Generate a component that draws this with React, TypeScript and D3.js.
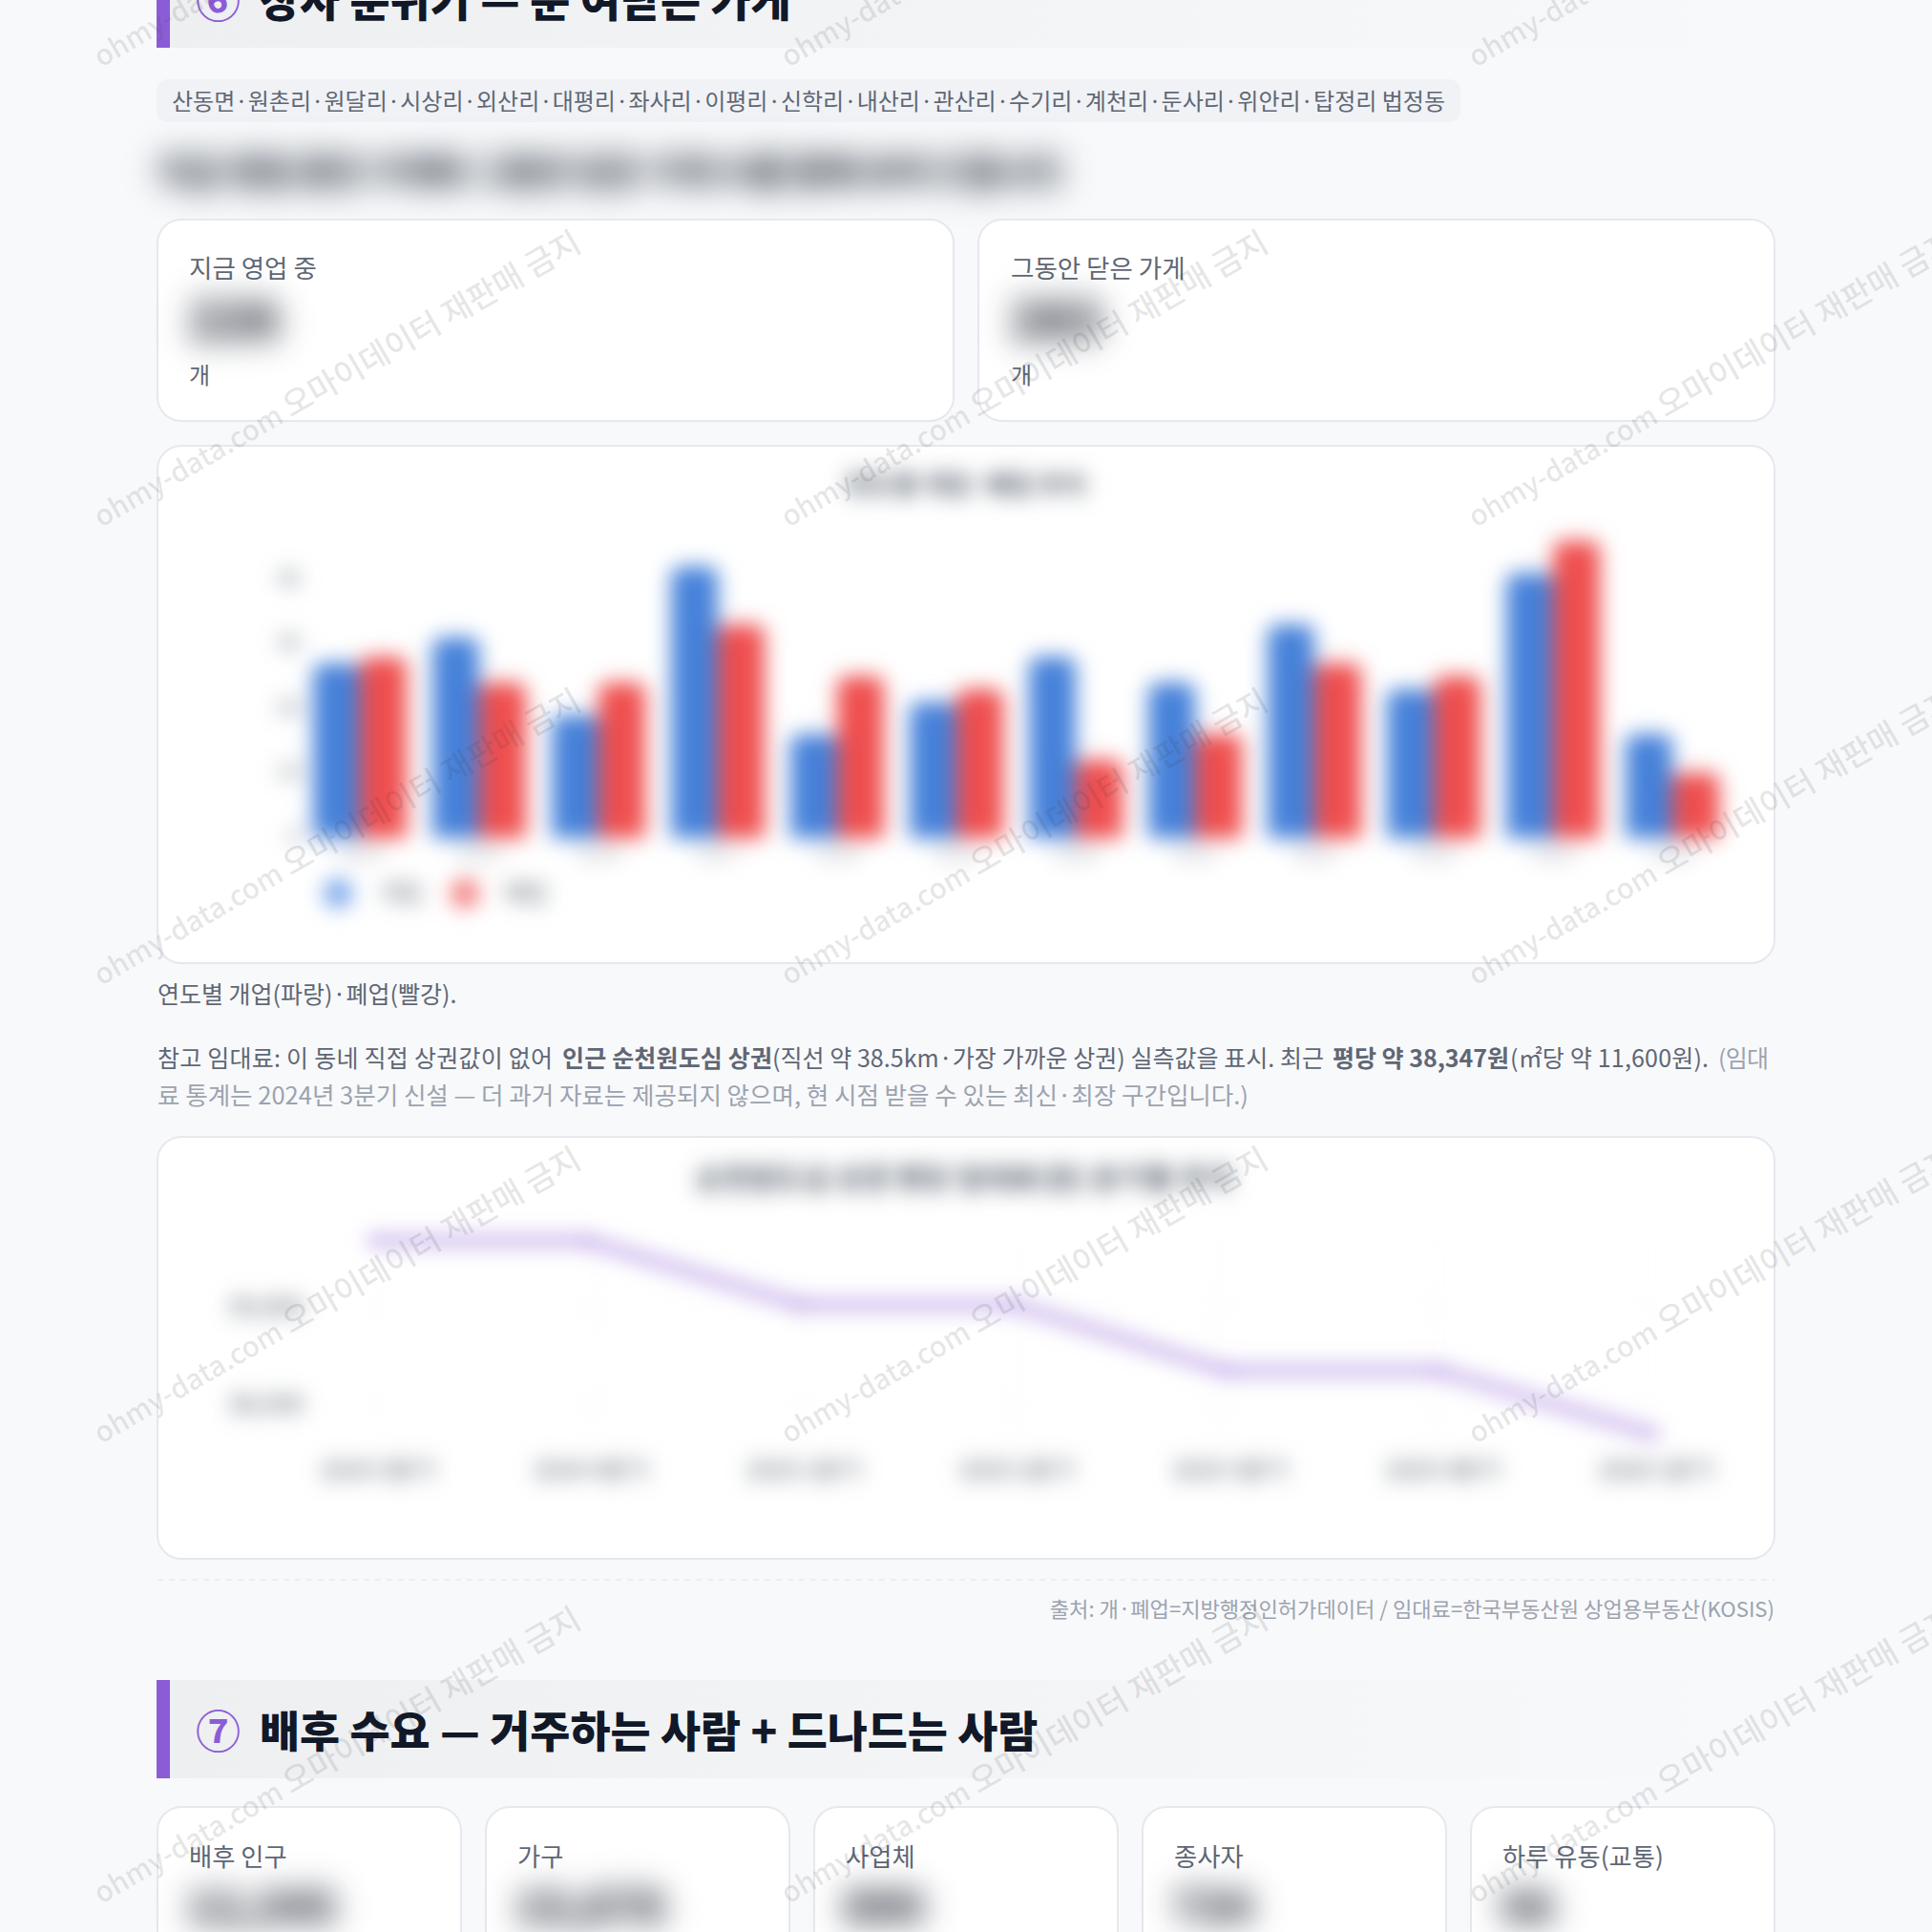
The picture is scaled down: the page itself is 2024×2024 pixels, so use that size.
import React from "react";
import * as d3 from "d3";

const years = ["2014","2015","2016","2017","2018","2019","2020","2021","2022","2023","2024","2025"];
const openings = [27,31,19,42,16,21,28,24,33,23,41,16];
const closings = [28,24,24,33,25,23,12,16,27,25,46,10];
const barTicks = [0,10,20,30,40];
const quarters = ["2024 3분기","2024 4분기","2025 1분기","2025 2분기","2025 3분기","2025 4분기","2026 1분기"];
const rents = [39338,39338,39010,39010,38672,38672,38347];
const rentTicks = [38500,39000];
const villages = "산동면·원촌리·원달리·시상리·외산리·대평리·좌사리·이평리·신학리·내산리·관산리·수기리·계천리·둔사리·위안리·탑정리 법정동";
const statLabels = ["배후 인구","가구","사업체","종사자","하루 유동(교통)"];
const statValues = ["12,345","15,678","890","734","56"];
const wmRows = [71,553,1033,1513,1995];
const wmCols = [106,826,1546];

const FONT = "'Noto Sans CJK KR','Noto Sans',sans-serif";
const BG = "#f8f9fb";
const BORDER = "#e7e8ee";
const chartBlur = { filter: "blur(8px) blur(8px)" };
const bigBlur = { filter: "blur(12px) blur(12px)" };

function Card({x,y,w,h}:{x:number;y:number;w:number;h:number}) {
  return <rect x={x+1} y={y+1} width={w-2} height={h-2} rx={25} fill="#fff" stroke={BORDER} strokeWidth={2}/>;
}
function Heading({y,num,title}:{y:number;num:string;title:string}) {
  return <g>
    <rect x={164} y={y} width={1696} height={103} fill="url(#headGrad)"/>
    <rect x={164} y={y} width={14} height={103} fill="#8b5cd6"/>
    <text x={205} y={y+58} dominantBaseline="middle" fontSize={47} fontWeight={700} fill="#8b5cd6">{num}</text>
    <text x={272} y={y+59} dominantBaseline="middle" fontSize={45.7} fontWeight={900} fill="#111827">{title}</text>
  </g>;
}
function topRounded(x:number,y:number,w:number,y0:number,r:number) {
  const p = d3.path();
  p.moveTo(x,y0);
  p.lineTo(x,y+r);
  p.quadraticCurveTo(x,y,x+r,y);
  p.lineTo(x+w-r,y);
  p.quadraticCurveTo(x+w,y,x+w,y+r);
  p.lineTo(x+w,y0);
  p.closePath();
  return p.toString();
}

export default function App() {
  const by = d3.scaleLinear().domain([0,40]).range([875,605]);
  const half = 49;
  const group = d3.scaleBand<string>().domain(years).range([314.5,1814.5]);
  const cx = (d:string)=>(group(d) as number)+group.bandwidth()/2;

  const lx = d3.scalePoint<string>().domain(quarters).range([392,1731]);
  const ly = d3.scaleLinear().domain([38500,39000]).range([1471,1369]);
  const linePath = d3.line<number>().x((_,i)=>lx(quarters[i]) as number).y(d=>ly(d))(rents) as string;

  const cardXs = [164,508,852,1196,1540];
  const textGray = "#5f6774";

  return (
    <svg width={2024} height={2024} viewBox="0 0 2024 2024"
      style={{position:"absolute",left:0,top:0,display:"block",fontFamily:FONT}}>
      <defs>
        <linearGradient id="headGrad" x1="0" x2="1" y1="0" y2="0">
          <stop offset="0" stopColor="#eeeff1"/>
          <stop offset="1" stopColor="#eeeff1" stopOpacity="0"/>
        </linearGradient>
      </defs>
      <rect x={0} y={0} width={2024} height={2024} fill={BG}/>

      <Heading y={-53} num="⑥" title="장사 분위기 — 문 여닫은 가게"/>

      <rect x={164} y={83} width={1366} height={45} rx={12} fill="#f0f2f6"/>
      <text x={180} y={108} dominantBaseline="middle" fontSize={24} fill={textGray} textLength={1334} lengthAdjust="spacingAndGlyphs">{villages}</text>

      <g style={bigBlur}>
        <text x={165} y={184} dominantBaseline="middle" fontSize={38} fill="#1f2937" fontWeight={800} textLength={947} lengthAdjust="spacingAndGlyphs">지금 영업 중인 가게와 그동안 닫은 가게 수를 함께 보여 드립니다</text>
      </g>

      <Card x={164} y={229} w={836} h={213}/>
      <Card x={1024} y={229} w={836} h={213}/>
      <text x={198} y={284} dominantBaseline="middle" fontSize={26.5} fill={textGray}>지금 영업 중</text>
      <text x={1059} y={284} dominantBaseline="middle" fontSize={26.5} fill={textGray}>그동안 닫은 가게</text>
      <g style={bigBlur} fontSize={52} fontWeight={900} fill="#111827">
        <text x={198} y={340} dominantBaseline="middle">226</text>
        <text x={1059} y={340} dominantBaseline="middle">283</text>
      </g>
      <text x={198} y={395} dominantBaseline="middle" fontSize={24} fill={textGray}>개</text>
      <text x={1059} y={395} dominantBaseline="middle" fontSize={24} fill={textGray}>개</text>

      <Card x={164} y={466} w={1696} h={544}/>
      <g style={chartBlur}>
        <text x={1012} y={511} textAnchor="middle" dominantBaseline="middle" fontSize={27} fontWeight={700} fill="#4b5563">연도별 개업·폐업 추이</text>
        {barTicks.map(t=><text key={t} x={314} y={by(t)+2} textAnchor="end" dominantBaseline="middle" fontSize={21} fill="#4b5563">{t}</text>)}
        {years.map((d,i)=><g key={d}>
          <path d={topRounded(cx(d)-half,by(openings[i])+2,half,878,12)} fill="#4480d9"/>
          <path d={topRounded(cx(d),by(closings[i])+2,half,878,12)} fill="#ef4d4d"/>
          <text x={cx(d)} y={896} textAnchor="middle" dominantBaseline="middle" fontSize={20} fill="#9ca3af">{d}</text>
        </g>)}
        <circle cx={354} cy={936} r={15} fill="#6f9fe9"/>
        <text x={420} y={937} textAnchor="middle" dominantBaseline="middle" fontSize={24} fill="#4b5563">개업</text>
        <circle cx={487} cy={936} r={15} fill="#f27474"/>
        <text x={551} y={937} textAnchor="middle" dominantBaseline="middle" fontSize={24} fill="#4b5563">폐업</text>
      </g>

      <text x={165} y={1044} dominantBaseline="middle" fontSize={25} fill={textGray}>연도별 개업(파랑)·폐업(빨강).</text>
      <g fontSize={25} fill={textGray} dominantBaseline="middle">
        <text x={165} y={1111} textLength={414} lengthAdjust="spacing">참고 임대료: 이 동네 직접 상권값이 없어</text>
        <text x={589} y={1111} fontWeight={700} textLength={220} lengthAdjust="spacing">인근 순천원도심 상권</text>
        <text x={809} y={1111} textLength={578} lengthAdjust="spacing">(직선 약 38.5km·가장 가까운 상권) 실측값을 표시. 최근</text>
        <text x={1396} y={1111} fontWeight={700} textLength={185} lengthAdjust="spacing">평당 약 38,347원</text>
        <text x={1582} y={1111} textLength={208} lengthAdjust="spacing">(㎡당 약 11,600원).</text>
        <text x={1800} y={1111} fill="#9ca3af" textLength={53} lengthAdjust="spacing">(임대</text>
      </g>
      <text x={165} y={1150} dominantBaseline="middle" fontSize={25} fill="#9ca3af" textLength={1143} lengthAdjust="spacingAndGlyphs">료 통계는 2024년 3분기 신설 — 더 과거 자료는 제공되지 않으며, 현 시점 받을 수 있는 최신·최장 구간입니다.)</text>

      <Card x={164} y={1190} w={1696} h={444}/>
      <g style={chartBlur}>
        <text x={1010} y={1237} textAnchor="middle" dominantBaseline="middle" fontSize={30} fontWeight={700} fill="#4b5563" textLength={562} lengthAdjust="spacingAndGlyphs">순천원도심 상권 평당 임대료(원) 분기별 추이</text>
        {rentTicks.map(t=><text key={t} x={318} y={ly(t)+2} textAnchor="end" dominantBaseline="middle" fontSize={26} fill="#4b5563">{d3.format(",")(t)}</text>)}
        {rentTicks.map(t=><line key={t} x1={392} x2={1731} y1={ly(t)} y2={ly(t)} stroke="#f0f0f0" strokeWidth={1}/>)}
        {quarters.map(q=><line key={q} x1={lx(q)} x2={lx(q)} y1={1290} y2={1510} stroke="#f0f0f0" strokeWidth={1}/>)}
        {quarters.map(q=><text key={q} x={lx(q)+4} y={1542} textAnchor="middle" dominantBaseline="middle" fontSize={25} fill="#4b5563">{q}</text>)}
        <path d={linePath} fill="none" stroke="#8b5cd6" strokeWidth={6}/>
        {rents.map((r,i)=><circle key={i} cx={lx(quarters[i])} cy={ly(r)} r={5} fill="#8b5cd6"/>)}
      </g>

      <line x1={165} x2={1859} y1={1655} y2={1655} stroke="#eceef1" strokeWidth={2} strokeDasharray="6 6"/>
      <text x={1859} y={1688} textAnchor="end" dominantBaseline="middle" fontSize={22.1} fill="#9ca3af">출처: 개·폐업=지방행정인허가데이터 / 임대료=한국부동산원 상업용부동산(KOSIS)</text>

      <Heading y={1760} num="⑦" title="배후 수요 — 거주하는 사람 + 드나드는 사람"/>

      {statLabels.map((l,i)=><g key={l}>
        <Card x={cardXs[i]} y={1892} w={320} h={220}/>
        <text x={cardXs[i]+34} y={1948} dominantBaseline="middle" fontSize={26.3} fill={textGray}>{l}</text>
        <g style={bigBlur}>
          <text x={cardXs[i]+32} y={2002} dominantBaseline="middle" fontSize={46} fontWeight={900} fill="#111827">{statValues[i]}</text>
        </g>
      </g>)}

      <g fill="rgba(60,60,70,0.13)" fontWeight={500}>
        {wmRows.map(r=>wmCols.map(c=>
          <text key={r+"-"+c} x={c} y={r} transform={`rotate(-30 ${c} ${r})`}>
            <tspan fontSize={29.5}>ohmy-data.com </tspan><tspan fontSize={33.5}>오마이데이터 재판매 금지</tspan>
          </text>
        ))}
      </g>
    </svg>
  );
}
